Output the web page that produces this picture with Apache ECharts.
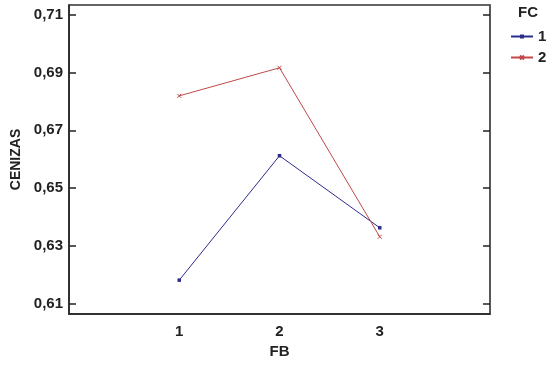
<!DOCTYPE html>
<html>
<head>
<meta charset="utf-8">
<script src="https://cdn.jsdelivr.net/npm/echarts@6/dist/echarts.min.js"></script>
<style>
  html, body { margin: 0; padding: 0; background: #fff; }
  #chart { width: 550px; height: 365px; }
</style>
</head>
<body>
<div id="chart"></div>
<script>
// niveles de FB
const fbLevels = [1, 2, 3];
// medias de CENIZAS por nivel de FC
const fc1 = [0.6182, 0.6612, 0.6363];
const fc2 = [0.6819, 0.6916, 0.6332];
const yTicks = [0.61, 0.63, 0.65, 0.67, 0.69, 0.71];

const font = 'Liberation Sans, Arial, sans-serif';
const crossPath = 'path://M0,0L10,10M10,0L0,10';

function toPairs(vals) {
    return fbLevels.map(function (x, i) { return [x, vals[i]]; });
}

const chart = echarts.init(document.getElementById('chart'));
const option = {
    animation: false,
    textStyle: { fontFamily: font },
    grid: { left: 69, right: 60, top: 5, bottom: 51, show: true, borderColor: '#333', borderWidth: 1.5 },
    legend: {
        orient: 'vertical',
        left: 505,
        top: 24,
        itemWidth: 22,
        itemHeight: 5,
        itemGap: 6,
        textStyle: { fontWeight: 'bold', fontSize: 15, color: '#222' },
        data: ['1', '2']
    },
    graphic: [{
        type: 'text',
        left: 518,
        top: 5,
        style: { text: 'FC', font: 'bold 15px ' + font, fill: '#222' }
    }],
    xAxis: {
        type: 'value',
        min: -0.1,
        max: 4.1,
        name: 'FB',
        nameLocation: 'middle',
        nameGap: 30,
        nameTextStyle: { fontWeight: 'bold', fontSize: 15, color: '#222' },
        axisLine: { show: true, onZero: false, lineStyle: { color: '#222', width: 1.5 } },
        axisTick: { show: false },
        splitLine: { show: false },
        axisLabel: {
            customValues: fbLevels,
            fontWeight: 'bold',
            fontSize: 15,
            color: '#222',
            margin: 10
        }
    },
    yAxis: [{
        type: 'value',
        min: 0.6065,
        max: 0.7133,
        name: 'CENIZAS',
        nameLocation: 'middle',
        nameGap: 46,
        nameTextStyle: { fontWeight: 'bold', fontSize: 14, color: '#222' },
        axisLine: { show: true, onZero: false, lineStyle: { color: '#222', width: 1.5 } },
        axisTick: { show: true, inside: true, customValues: yTicks, length: 7, lineStyle: { color: '#222', width: 1.5 } },
        splitLine: { show: false },
        axisLabel: {
            customValues: yTicks,
            formatter: function (v) { return v.toFixed(2).replace('.', ','); },
            fontWeight: 'bold',
            fontSize: 15,
            color: '#222',
            margin: 6
        }
    }, {
        type: 'value',
        min: 0.6065,
        max: 0.7133,
        position: 'right',
        axisLine: { show: true, onZero: false, lineStyle: { color: '#555', width: 1.5 } },
        axisTick: { show: true, inside: true, customValues: yTicks, length: 7, lineStyle: { color: '#222', width: 1.5 } },
        axisLabel: { show: false },
        splitLine: { show: false }
    }],
    series: [{
        name: '1',
        type: 'line',
        data: toPairs(fc1),
        symbol: 'rect',
        symbolSize: 3.5,
        color: '#2b2b8c',
        lineStyle: { width: 1, color: '#2b2b8c' },
        itemStyle: { color: '#2b2b8c' }
    }, {
        name: '2',
        type: 'line',
        data: toPairs(fc2),
        symbol: crossPath,
        symbolSize: 4,
        color: '#c04848',
        lineStyle: { width: 1, color: '#c04848' },
        itemStyle: { color: '#c04848', borderColor: '#c04848', borderWidth: 1 }
    }]
};
chart.setOption(option);
</script>
</body>
</html>
